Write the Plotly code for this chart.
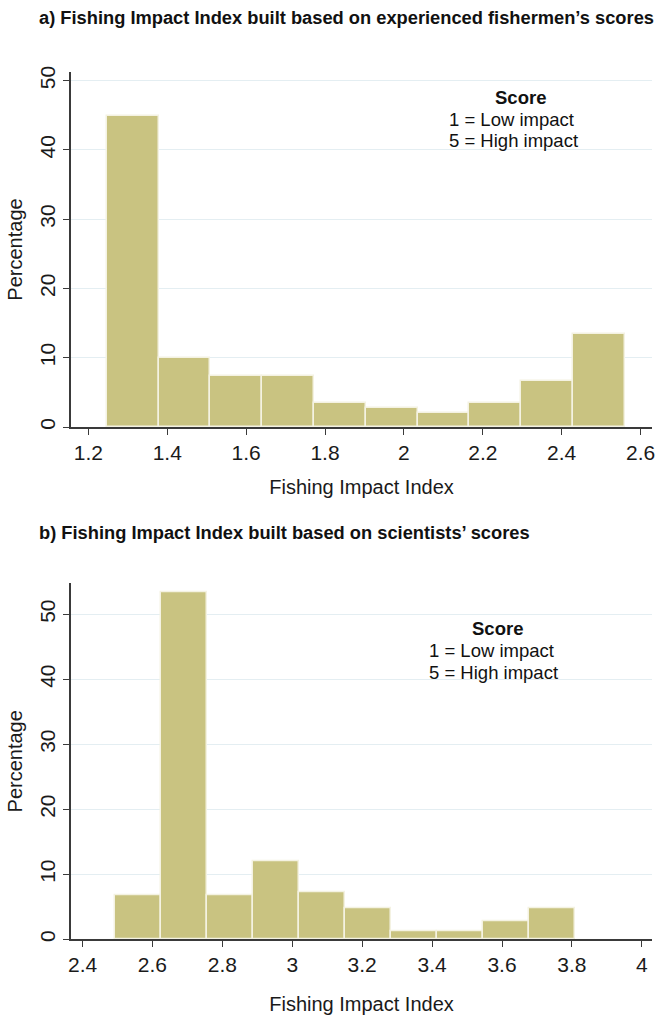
import plotly.graph_objects as go

# ---- data -------------------------------------------------------------
# a) index built on experienced fishermen's scores
fish_bin_start = 1.247
fish_bin_width = 0.1313
fish_pct = [44.9, 9.9, 7.4, 7.4, 3.4, 2.7, 2.0, 3.4, 6.7, 13.4]

# b) index built on scientists' scores
sci_bin_start = 2.494
sci_bin_width = 0.1315
sci_pct = [6.7, 53.4, 6.7, 12.0, 7.3, 4.7, 1.3, 1.3, 2.7, 4.7]

fish_ticks = [1.2, 1.4, 1.6, 1.8, 2.0, 2.2, 2.4, 2.6]
fish_ticktext = ["1.2", "1.4", "1.6", "1.8", "2", "2.2", "2.4", "2.6"]
sci_ticks = [2.4, 2.6, 2.8, 3.0, 3.2, 3.4, 3.6, 3.8, 4.0]
sci_ticktext = ["2.4", "2.6", "2.8", "3", "3.2", "3.4", "3.6", "3.8", "4"]
pct_ticks = [0, 10, 20, 30, 40, 50]

title_a = "a) Fishing Impact Index built based on experienced fishermen’s scores"
title_b = "b) Fishing Impact Index built based on scientists’ scores"
legend_lines = ["1 = Low impact", "5 = High impact"]

# ---- layout helpers ------------------------------------------------------
W, H = 657, 1015


def px(x):
    return x / W


def py(y):
    return 1 - y / H


BAR = "#c9c381"
EDGE = "#f4f2e2"
AXIS = "#3a3a3a"
GRID = "#e4eef2"
FONT = "Liberation Sans, Arial, sans-serif"
TXT = "#1a1a1a"


def centers(start, width, n):
    return [start + (i + 0.5) * width for i in range(n)]


fig = go.Figure()
fig.add_trace(go.Bar(
    x=centers(fish_bin_start, fish_bin_width, len(fish_pct)), y=fish_pct,
    width=fish_bin_width, marker=dict(color=BAR, line=dict(color=EDGE, width=1.5)),
    xaxis="x", yaxis="y", showlegend=False))
fig.add_trace(go.Bar(
    x=centers(sci_bin_start, sci_bin_width, len(sci_pct)), y=sci_pct,
    width=sci_bin_width, marker=dict(color=BAR, line=dict(color=EDGE, width=1.5)),
    xaxis="x2", yaxis="y2", showlegend=False))

xcommon = dict(
    showline=True, linecolor=AXIS, linewidth=1.5, ticks="outside", ticklen=6,
    tickcolor=AXIS, tickwidth=1.3, showgrid=False, zeroline=False,
    tickfont=dict(family=FONT, size=21, color=TXT),
    title_font=dict(family=FONT, size=20, color=TXT),
    automargin=False,
)
ycommon = dict(
    showline=True, linecolor=AXIS, linewidth=1.5, ticks="outside", ticklen=6,
    tickcolor=AXIS, tickwidth=1.3, showgrid=True, gridcolor=GRID, gridwidth=1,
    zeroline=False, tickangle=-90, tickvals=pct_ticks,
    tickfont=dict(family=FONT, size=21, color=TXT),
    title_font=dict(family=FONT, size=20, color=TXT),
    automargin=False,
)

fig.update_layout(
    width=W, height=H, margin=dict(l=0, r=0, t=0, b=0),
    paper_bgcolor="white", plot_bgcolor="white", bargap=0,
    xaxis=dict(xcommon, domain=[px(71), px(652)], anchor="y",
               range=[1.156, 2.629], tickvals=fish_ticks, ticktext=fish_ticktext,
               title=dict(text="Fishing Impact Index", standoff=17)),
    yaxis=dict(ycommon, domain=[py(427), py(72)], anchor="x",
               range=[0, 51.26],
               title=dict(text="Percentage", standoff=8)),
    xaxis2=dict(xcommon, domain=[px(71), px(652)], anchor="y2",
                range=[2.367, 4.029], tickvals=sci_ticks, ticktext=sci_ticktext,
                title=dict(text="Fishing Impact Index", standoff=22)),
    yaxis2=dict(ycommon, domain=[py(939.3), py(583.3)], anchor="x2",
                range=[0, 54.77],
                title=dict(text="Percentage", standoff=8)),
)

annotations = [
    dict(text="<b>" + title_a + "</b>", x=px(37), y=py(18), xanchor="left",
         yanchor="middle", font=dict(family=FONT, size=18.3, color="#111")),
    dict(text="<b>" + title_b + "</b>", x=px(37), y=py(532), xanchor="left",
         yanchor="middle", font=dict(family=FONT, size=18.3, color="#111")),
    # score key, panel a
    dict(text="<b>Score</b>", x=px(520), y=py(97), xanchor="center", yanchor="middle",
         font=dict(family=FONT, size=18.5, color="#111")),
    dict(text=legend_lines[0], x=px(447), y=py(119), xanchor="left", yanchor="middle",
         font=dict(family=FONT, size=18.5, color="#111")),
    dict(text=legend_lines[1], x=px(447), y=py(140), xanchor="left", yanchor="middle",
         font=dict(family=FONT, size=18.5, color="#111")),
    # score key, panel b
    dict(text="<b>Score</b>", x=px(497.5), y=py(628), xanchor="center", yanchor="middle",
         font=dict(family=FONT, size=18.5, color="#111")),
    dict(text=legend_lines[0], x=px(427), y=py(650), xanchor="left", yanchor="middle",
         font=dict(family=FONT, size=18.5, color="#111")),
    dict(text=legend_lines[1], x=px(427), y=py(672), xanchor="left", yanchor="middle",
         font=dict(family=FONT, size=18.5, color="#111")),
]
for a in annotations:
    a.update(xref="paper", yref="paper", showarrow=False)
fig.update_layout(annotations=annotations)

fig.write_html("out.html")
